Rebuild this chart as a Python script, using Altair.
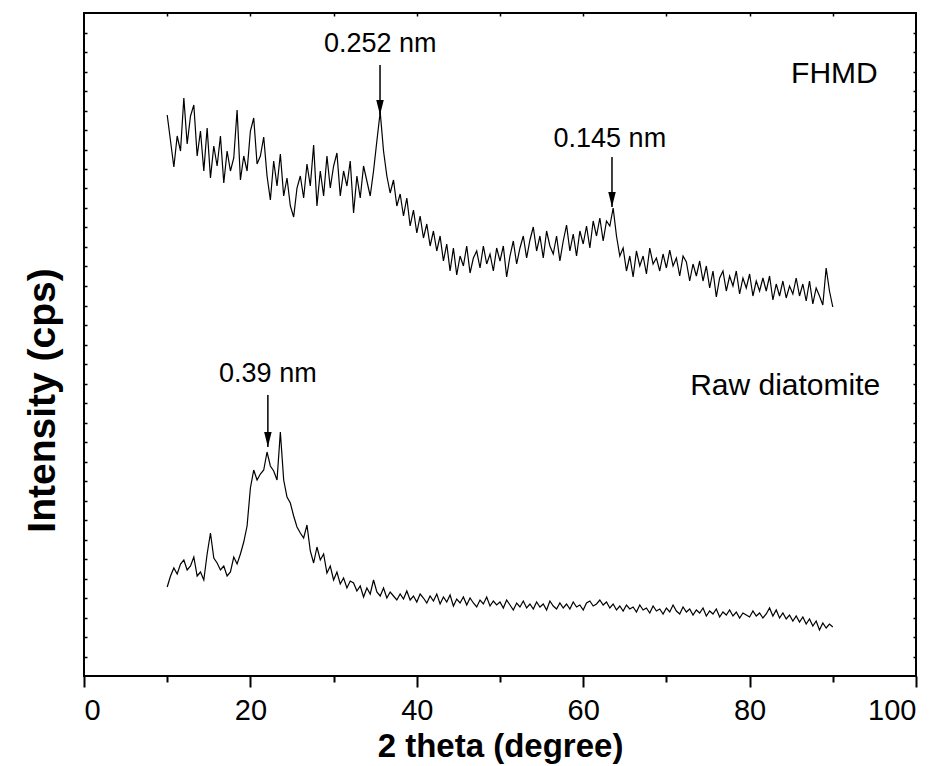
import altair as alt
import pandas as pd

# 2-theta sampling grid (degrees)
two_theta = [round(10 + 0.4 * k, 1) for k in range(201)]

# FHMD intensity (arbitrary units)
fhmd = [
    561, 535, 509, 540, 525, 578, 532, 560, 571, 520,
    545, 505, 548, 498, 530, 510, 540, 493, 525, 505,
    518, 566, 496, 520, 505, 545, 558, 512, 520, 539,
    500, 476, 515, 490, 522, 480, 498, 470, 459, 488,
    500, 478, 512, 490, 531, 470, 505, 480, 520, 488,
    510, 523, 480, 505, 490, 515, 463, 500, 478, 510,
    495, 480, 505, 535, 564, 525, 500, 483, 496, 470,
    482, 460, 478, 450, 466, 443, 460, 438, 452, 430,
    445, 425, 440, 415, 432, 405, 428, 401, 420, 410,
    430, 403, 418, 425, 408, 430, 412, 422, 405, 428,
    415, 430, 399, 420, 435, 412, 428, 440, 418, 436,
    449, 425, 440, 418, 445, 430, 422, 440, 415, 435,
    451, 425, 442, 420, 445, 432, 450, 428, 455, 440,
    458, 435, 455, 450, 468, 440, 420, 428, 405, 420,
    399, 425, 410, 420, 402, 428, 412, 418, 405, 422,
    408, 426, 410, 418, 400, 420, 414, 395, 412, 400,
    415, 395, 410, 388, 405, 379, 398, 405, 385, 400,
    390, 405, 382, 398, 388, 402, 380, 395, 385, 398,
    385, 400, 376, 392, 380, 395, 378, 390, 382, 398,
    380, 392, 375, 395, 372, 388, 380, 371, 408, 385, 369,
]

# Raw diatomite intensity (arbitrary units)
raw = [
    89, 100, 108, 102, 112, 116, 106, 110, 119, 100,
    104, 96, 122, 143, 118, 113, 106, 110, 100, 104,
    119, 112, 122, 134, 150, 188, 206, 196, 202, 206,
    224, 210, 205, 196, 244, 196, 179, 173, 160, 149,
    143, 138, 151, 125, 113, 129, 116, 122, 103, 110,
    96, 104, 92, 98, 88, 95, 93, 85, 90, 79,
    88, 82, 96, 84, 80, 88, 78, 84, 80, 76,
    82, 77, 85, 76, 80, 74, 82, 78, 73, 80,
    75, 82, 72, 79, 74, 81, 70, 77, 73, 79,
    71, 78, 73, 69, 76, 72, 79, 70, 75, 71,
    74, 68, 76, 71, 66, 73, 69, 75, 68, 72,
    67, 74, 69, 72, 66, 75, 70, 67, 73, 68,
    72, 67, 74, 69, 71, 66, 73, 75, 70, 72,
    76, 71, 74, 68, 72, 66, 70, 65, 71, 67,
    69, 64, 71, 66, 68, 63, 70, 65, 67, 62,
    68, 64, 71, 65, 62, 69, 64, 67, 61, 66,
    63, 68, 60, 65, 62, 67, 59, 64, 61, 66,
    60, 64, 58, 63, 61, 59, 65, 60, 63, 58,
    62, 68, 60, 66, 58, 63, 57, 61, 55, 60,
    54, 59, 52, 57, 50, 55, 46, 53, 48, 52, 49,
]

# Peak annotations
ann_text = ["0.252 nm", "0.145 nm", "0.39 nm"]
ann_x = [35.6, 63.2, 22.1]
ann_y = [624, 529, 294]
arrow_x = [35.58, 63.46, 22.1]
arrow_top = [611, 519, 281]
arrow_tip = [561, 469, 229]

# Series labels
label_text = ["FHMD", "Raw diatomite"]
label_x = [95.4, 95.7]
label_y = [593, 281]

x_ticks = list(range(0, 101, 10))
y_ticks = [round(19.5 * k, 1) for k in range(1, 34)]

FONT = "Liberation Sans"
xs = alt.Scale(domain=[0, 100], nice=False, zero=False)
ys = alt.Scale(domain=[0, 663], nice=False, zero=False)

df = pd.DataFrame({
    "x": two_theta + two_theta,
    "y": fhmd + raw,
    "s": ["FHMD"] * len(fhmd) + ["Raw diatomite"] * len(raw),
})
df_ann = pd.DataFrame({"t": ann_text, "x": ann_x, "y": ann_y})
df_arr = pd.DataFrame({"x": arrow_x, "top": arrow_top, "tip": arrow_tip})
df_lab = pd.DataFrame({"t": label_text, "x": label_x, "y": label_y})

lines = alt.Chart(df).mark_line(color="black", strokeWidth=1.2).encode(
    x=alt.X("x:Q", scale=xs, axis=alt.Axis(
        orient="bottom", values=x_ticks, grid=False, domain=False,
        labelExpr="datum.value % 20 === 0 ? datum.label : ''",
        tickSize={"condition": {"test": "datum.value % 20 === 0", "value": 11}, "value": 6},
        tickWidth=2, tickColor="black",
        labelFont=FONT, labelFontSize=29, labelColor="black", labelPadding=9,
        labelOverlap=False,
        title="2 theta (degree)", titleFont=FONT, titleFontSize=33,
        titleFontWeight="bold", titleColor="black", titleY=80,
        titleBaseline="alphabetic")),
    y=alt.Y("y:Q", scale=ys, axis=alt.Axis(
        orient="left", ticks=False, labels=False, domain=False, grid=False,
        title="Intensity (cps)", titleFont=FONT, titleFontSize=39,
        titleFontWeight="bold", titleColor="black", titleAngle=270,
        titleX=-30, titleY=387, titleBaseline="alphabetic", titleAlign="center")),
    detail="s:N",
)

ann = alt.Chart(df_ann).mark_text(
    font=FONT, fontSize=27, color="black", align="center", baseline="alphabetic"
).encode(
    x=alt.X("x:Q", scale=xs, axis=alt.Axis(
        orient="bottom", offset=-663, values=x_ticks[1:-1], tickSize=3,
        tickWidth=1.5, tickColor="black", labels=False, domain=False,
        grid=False, title=None)),
    y=alt.Y("y:Q", scale=ys, axis=alt.Axis(
        orient="right", offset=-832, values=y_ticks, tickSize=3,
        tickWidth=1.5, tickColor="black", labels=False, domain=False,
        grid=False, title=None)),
    text="t:N",
)

shafts = alt.Chart(df_arr).mark_rule(color="black", strokeWidth=1.5).encode(
    x=alt.X("x:Q", scale=xs, axis=None),
    y=alt.Y("top:Q", scale=ys, axis=alt.Axis(
        orient="left", offset=-832, values=y_ticks, tickSize=3,
        tickWidth=1.5, tickColor="black", labels=False, domain=False,
        grid=False, title=None)),
    y2="tip:Q",
)

heads = alt.Chart(df_arr).mark_point(
    shape="M -0.5 -1 L 0.5 -1 L 0 1 Z", size=225, filled=True,
    color="black", opacity=1, yOffset=-7.5
).encode(
    x=alt.X("x:Q", scale=xs, axis=None),
    y=alt.Y("tip:Q", scale=ys, axis=None),
)

labels = alt.Chart(df_lab).mark_text(
    font=FONT, fontSize=30, color="black", align="right", baseline="alphabetic"
).encode(
    x=alt.X("x:Q", scale=xs, axis=None),
    y=alt.Y("y:Q", scale=ys, axis=None),
    text="t:N",
)

chart = alt.layer(lines, ann, shafts, heads, labels).resolve_axis(
    x="independent", y="independent"
).properties(
    width=832, height=663,
    padding={"left": 84, "top": 13, "right": 25, "bottom": 90},
    autosize="none",
    background="white",
).configure_view(stroke="black", strokeWidth=2)

chart.save("out.html", embed_options={"renderer": "svg", "actions": False})
